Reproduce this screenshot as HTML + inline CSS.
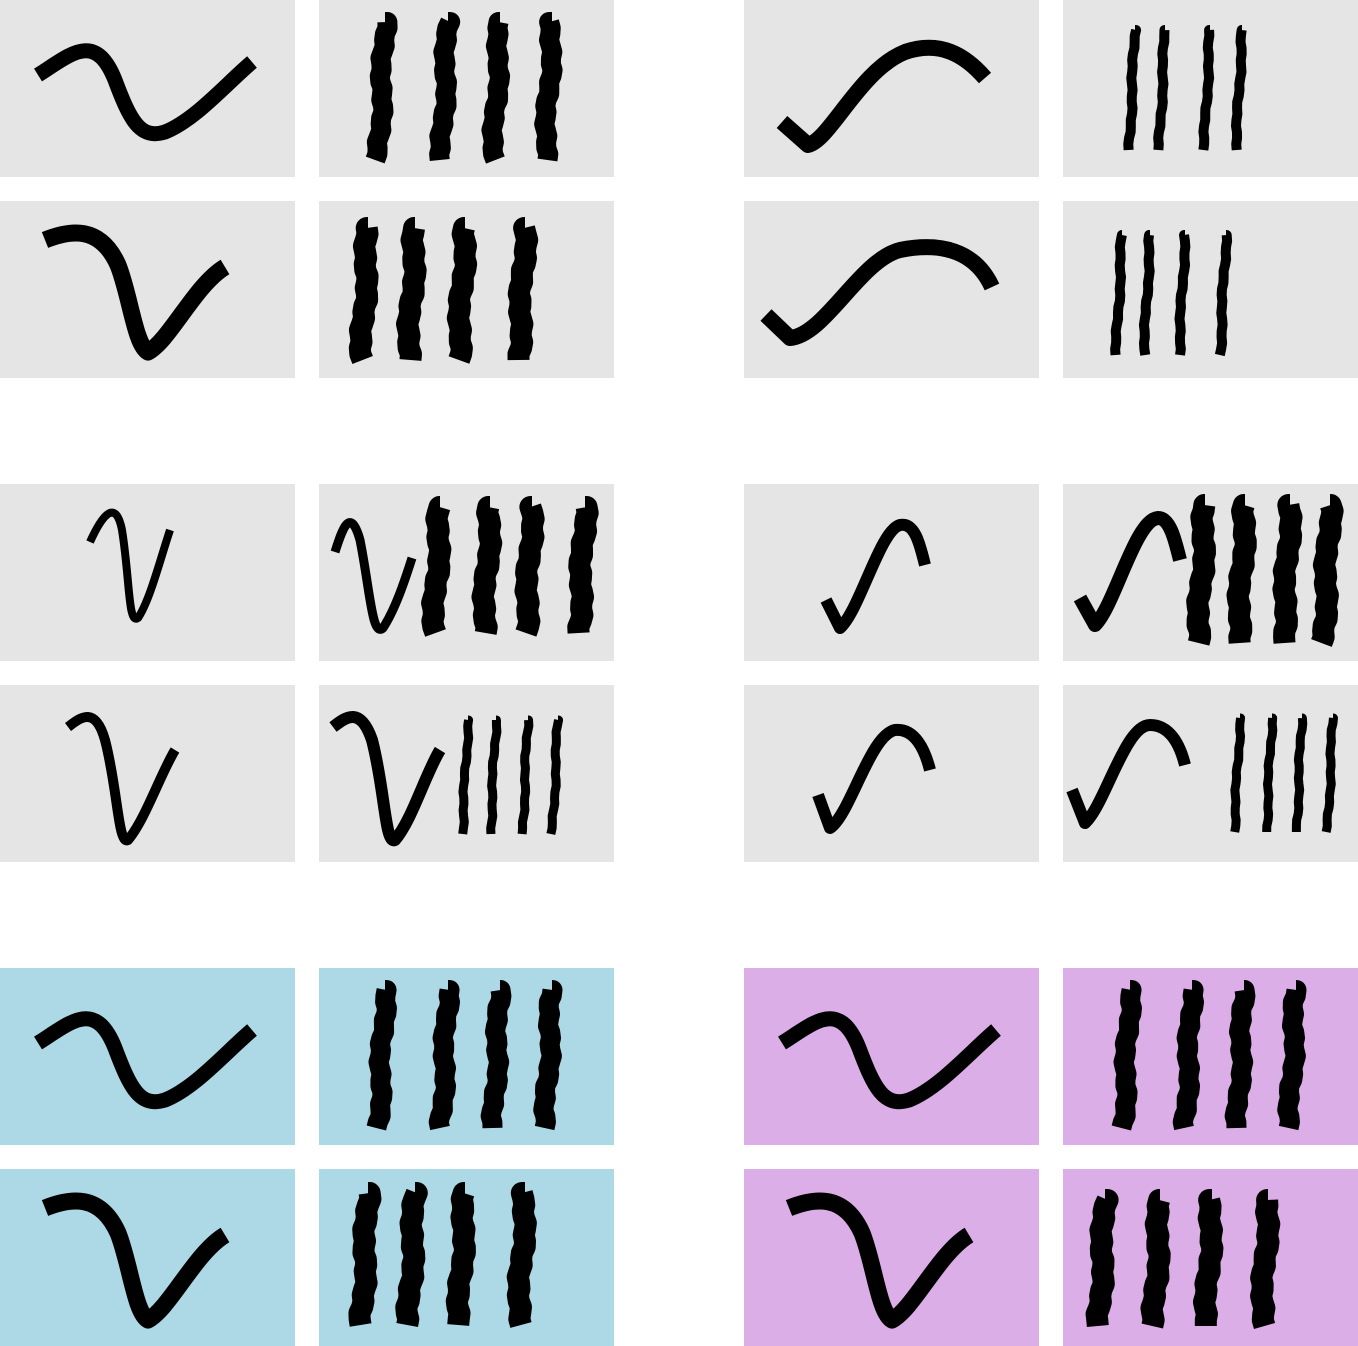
<!DOCTYPE html>
<html><head><meta charset="utf-8"><style>
html,body{margin:0;padding:0;background:#fff;}
svg{display:block;}
</style></head><body>
<svg id="s" width="1358" height="1346" viewBox="0 0 1358 1346">
<g id="panels"></g>
<g id="strokes" fill="none" stroke="#000" stroke-linecap="butt" stroke-linejoin="round"></g>
</svg>
<script>
const NS='http://www.w3.org/2000/svg';
const colX=[0,319,744,1063], rowY=[0,201,484,685,968,1169];
const pg=document.getElementById('panels'), sg=document.getElementById('strokes');
for(let r=0;r<6;r++)for(let c=0;c<4;c++){
  const e=document.createElementNS(NS,'rect');
  e.setAttribute('x',colX[c]);e.setAttribute('y',rowY[r]);e.setAttribute('width',295);e.setAttribute('height',177);
  let f='#e5e5e5'; if(r>=4) f=c<2?'#add8e6':'#dcaee8';
  e.setAttribute('fill',f);
  
  
  pg.appendChild(e);
}
function curve(d,w,name){
  const p=document.createElementNS(NS,'path');
  p.setAttribute('d',d);p.setAttribute('stroke-width',w);
  
  
  sg.appendChild(p);
}
function bars(xs,y0,y1,w,name,amp){
  if(amp===undefined) amp=2;
  xs.forEach((x,i)=>{
    let d='M'+x+' '+y0;
    for(let y=y0;y<=y1;y+=6){d+=' L'+(x+Math.sin(y*0.3+i*1.7)*amp*0.6+Math.sin(y*0.07+i)*amp-(y-y0)*0.05)+' '+y;}
    const p=document.createElementNS(NS,'path');
    p.setAttribute('d',d);p.setAttribute('stroke-width',w);
    
    
    sg.appendChild(p);
  });
}
function sCurve(dx,dy,name){curve(`M${38+dx} ${75+dy} C${70+dx} ${55+dy} ${95+dx} ${30+dy} ${115+dx} ${80+dy} C${130+dx} ${120+dy} ${140+dx} ${140+dy} ${165+dx} ${132+dy} C${195+dx} ${120+dy} ${225+dx} ${85+dy} ${252+dx} ${62+dy}`,15,name);}
function vCurve(dx,dy,name){curve(`M${45+dx} ${240+dy} C${70+dx} ${230+dy} ${100+dx} ${225+dy} ${118+dx} ${265+dy} C${130+dx} ${295+dy} ${135+dx} ${345+dy} ${148+dx} ${352+dy} C${170+dx} ${340+dy} ${195+dx} ${285+dy} ${225+dx} ${267+dy}`,17,name);}
sCurve(0,0,'s-curve-r1');
bars([385,448,500,552],22,162,20,'wavy-bar-r1');
vCurve(0,0,'v-curve-r2');
bars([368,415,465,525],228,362,22,'wavy-bar-r2');
curve('M782 122 L808 145 C830 140 860 70 905 52 C940 40 965 55 985 78',16,'check-curve-r1');
bars([1135,1165,1210,1242],30,155,10,'thin-bar-r1',1);
curve('M766 315 L790 338 C825 335 860 260 900 250 C940 242 975 250 992 287',16,'check-curve-r2');
bars([1122,1150,1185,1226],235,355,10,'thin-bar-r2',1);
curve('M90 542 C100 520 115 495 122 530 C130 580 128 625 138 618 C150 600 160 560 170 530',8,'narrow-v-r3');
curve('M335 552 C342 530 350 505 360 540 C370 590 372 638 383 628 C395 610 405 580 412 558',9,'narrow-v-r3b');
bars([440,490,532,585],507,638,22,'wavy-bar-r3');
curve('M68 727 C80 718 95 705 105 740 C118 790 118 845 128 840 C145 820 160 775 175 750',10,'narrow-v-r4');
curve('M333 727 C345 718 360 705 372 740 C385 790 385 845 395 840 C412 820 425 775 440 750',12,'narrow-v-r4b');
bars([468,496,528,558],720,835,9,'thin-bar-r4',1);
curve('M826 600 L840 628 C860 610 880 530 900 525 C915 522 920 545 925 565',12,'narrow-s-r3');
curve('M1080 598 L1095 625 C1115 605 1135 520 1158 518 C1170 518 1175 540 1180 560',14,'narrow-s-r3b');
bars([1205,1245,1290,1330],505,645,22,'wavy-bar-r3r');
curve('M818 795 L830 828 C850 815 870 735 895 730 C915 728 925 750 930 770',12,'narrow-s-r4');
curve('M1072 790 L1085 823 C1105 805 1125 725 1150 725 C1170 725 1180 745 1185 765',12,'narrow-s-r4b');
bars([1240,1272,1302,1333],718,832,9,'thin-bar-r4r',1);
sCurve(0,968,'s-curve-r5');
bars([385,448,500,552],990,1130,20,'wavy-bar-r5');
vCurve(0,968,'v-curve-r6');
bars([368,415,465,525],1193,1328,22,'wavy-bar-r6');
sCurve(744,968,'s-curve-r5-plum');
bars([1130,1192,1244,1296],990,1130,20,'wavy-bar-r5-plum');
vCurve(744,968,'v-curve-r6-plum');
bars([1105,1160,1212,1268],1200,1328,22,'wavy-bar-r6-plum');
</script>
</body></html>
